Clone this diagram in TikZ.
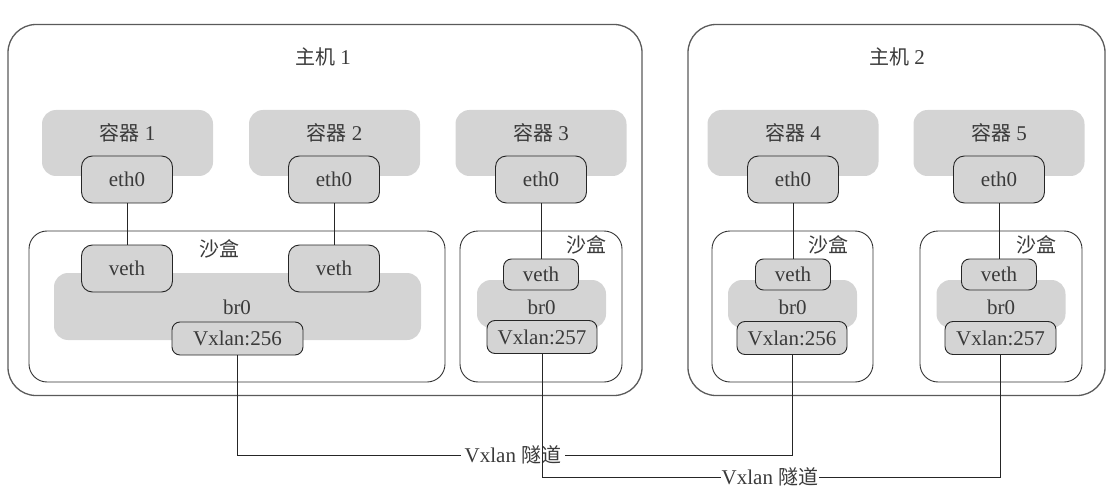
\documentclass[tikz,border=0pt]{standalone}
\usepackage{fontspec}
\setmainfont{Liberation Serif}
\newfontfamily\cjk{Noto Sans CJK SC}
\newcommand{\zh}[1]{{\cjk\fontsize{20}{22}\selectfont #1}}
\definecolor{boxgray}{HTML}{D4D4D4}
\definecolor{txtgray}{HTML}{3A3A3A}
\definecolor{linegray}{HTML}{5A5A5A}
\tikzset{
  host/.style={draw=linegray,line width=1.3pt,rounded corners=28pt},
  container/.style={fill=boxgray,rounded corners=14pt},
  sandbox/.style={draw=black!80,line width=0.9pt,rounded corners=18pt},
  bridge/.style={fill=boxgray,rounded corners=14pt},
  iface/.style={draw=black!85,line width=0.9pt,fill=boxgray,rounded corners=11pt,inner sep=0pt},
  txt/.style={text=txtgray,font=\fontsize{21}{24}\selectfont,inner sep=0pt},
  wire/.style={line width=0.8pt,black!85}
}
\begin{document}
\begin{tikzpicture}[x=1pt,y=-1pt]
  \useasboundingbox (0,0) rectangle (1114,492);

  % hosts
  \node (h1) at (325,210) [host,minimum width=634,minimum height=371]{};
  \node (h2) at (896.5,210) [host,minimum width=417,minimum height=371]{};
  \node (h1l) at (323,57) [txt]{\zh{主机} 1};
  \node (h2l) at (897,57) [txt]{\zh{主机} 2};

  % containers
  \foreach \n/\x in {1/127.5,2/334.5,3/541,4/793,5/999}{
    \node (c\n) at (\x,143) [container,minimum width=171,minimum height=66]{};
    \node (c\n l) at (\x,133) [txt]{\zh{容器} \n};
  }

  % sandboxes
  \node (s1) at (237,306.5) [sandbox,minimum width=416,minimum height=151]{};
  \node (s3) at (541,306.5) [sandbox,minimum width=162,minimum height=151]{};
  \node (s4) at (792.5,306.5) [sandbox,minimum width=161,minimum height=151]{};
  \node (s5) at (1001,306.5) [sandbox,minimum width=162,minimum height=151]{};
  \node (s1l) at (219,249) [txt]{\zh{沙盒}};
  \node (s3l) at (586,245) [txt]{\zh{沙盒}};
  \node (s4l) at (828,245) [txt]{\zh{沙盒}};
  \node (s5l) at (1036,245) [txt]{\zh{沙盒}};

  % bridges
  \node (b1) at (237.5,306.5) [bridge,minimum width=367,minimum height=67]{};
  \node (b1l) at (237,307) [txt]{br0};
  \foreach \n/\x in {3/541.5,4/792.5,5/1001}{
    \node (b\n) at (\x,304) [bridge,minimum width=129,minimum height=48]{};
    \node (b\n l) at (\x,307) [txt]{br0};
  }

  % eth0
  \foreach \n/\x in {1/127,2/334,3/541,4/793,5/999}{
    \node (e\n) at (\x,179.5) [iface,minimum width=91,minimum height=47]{};
    \node (e\n l) at (\x,179.5) [txt]{eth0};
  }

  % veth
  \node (v1) at (127,268.5) [iface,minimum width=91,minimum height=47]{};
  \node (v2) at (334,268.5) [iface,minimum width=91,minimum height=47]{};
  \node (v3) at (541,274.5) [iface,minimum width=75,minimum height=31,rounded corners=8pt]{};
  \node (v4) at (793,274.5) [iface,minimum width=75,minimum height=31,rounded corners=8pt]{};
  \node (v5) at (999,274.5) [iface,minimum width=75,minimum height=31,rounded corners=8pt]{};
  \foreach \n in {1,...,5}{
    \node at (v\n) [txt]{veth};
  }

  % vxlan
  \node (x1) at (237.5,338.5) [iface,minimum width=131,minimum height=33,rounded corners=8pt]{};
  \node (x3) at (542,337) [iface,minimum width=110,minimum height=33,rounded corners=8pt]{};
  \node (x4) at (792,338) [iface,minimum width=110,minimum height=33,rounded corners=8pt]{};
  \node (x5) at (1000.5,338) [iface,minimum width=111,minimum height=33,rounded corners=8pt]{};
  \node at (x1) [txt]{Vxlan:256};
  \node at (x3) [txt]{Vxlan:257};
  \node at (x4) [txt]{Vxlan:256};
  \node at (x5) [txt]{Vxlan:257};

  \foreach \n in {1,...,5}{
    \draw[wire] (e\n) -- (v\n);
  }

  % tunnels
  \node (t1) at (513,455) [txt,inner xsep=4pt]{Vxlan \zh{隧道}};
  \node (t2) at (770,477) [txt,inner xsep=1pt]{Vxlan \zh{隧道}};
  \draw[wire] (x3.south) |- (t2.west);
  \draw[wire] (t2.east) -| (x5.south);
  \draw[wire] (x1.south) |- (t1.west);
  \draw[wire] (t1.east) -| (x4.south);

\end{tikzpicture}
\end{document}
